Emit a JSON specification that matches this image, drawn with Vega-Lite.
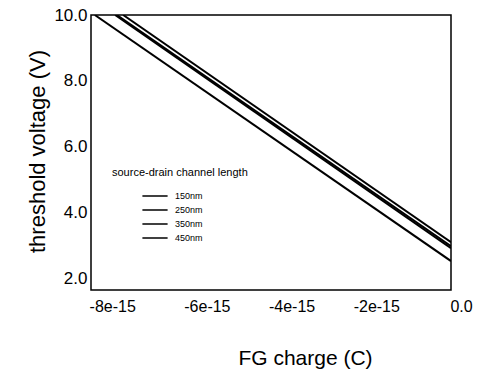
{
  "$schema": "https://vega.github.io/schema/vega-lite/v6.json",
  "width": 360,
  "height": 275,
  "autosize": {"type": "none"},
  "padding": {"left": 91, "top": 15, "right": 26, "bottom": 82},
  "background": "white",
  "config": {
    "view": {"stroke": "black", "strokeWidth": 1.5},
    "font": "Liberation Sans",
    "axis": {"grid": false, "domain": false, "labelColor": "black", "titleColor": "black", "titleFontWeight": "normal"}
  },
  "data": {
    "values": [
      {"length": "150nm", "charge": -8.41e-15, "vt": 10.0},
      {"length": "150nm", "charge": 0, "vt": 2.52},
      {"length": "250nm", "charge": -7.93e-15, "vt": 10.0},
      {"length": "250nm", "charge": 0, "vt": 2.91},
      {"length": "350nm", "charge": -7.89e-15, "vt": 10.0},
      {"length": "350nm", "charge": 0, "vt": 2.97},
      {"length": "450nm", "charge": -7.74e-15, "vt": 10.0},
      {"length": "450nm", "charge": 0, "vt": 3.09}
    ]
  },
  "mark": {"type": "line", "strokeWidth": 2, "clip": true},
  "encoding": {
    "x": {
      "field": "charge",
      "type": "quantitative",
      "scale": {"domain": [-8.5e-15, 0], "nice": false, "zero": false},
      "axis": {
        "values": [-8e-15, -6e-15, -4e-15, -2e-15, 0],
        "labelExpr": "datum.value == 0 ? '0.0' : round(datum.value * 1e15) + 'e-15'",
        "ticks": false,
        "labelPadding": 8,
        "labelFontSize": 16,
        "labelFlush": false,
        "labelOverlap": false,
        "labelOffset": {"condition": {"test": "datum.value < -7e-15", "value": 0}, "value": 10},
        "title": "FG charge (C)",
        "titleFontSize": 21,
        "titleX": 214,
        "titleY": 68,
        "titleBaseline": "middle"
      }
    },
    "y": {
      "field": "vt",
      "type": "quantitative",
      "scale": {"domain": [1.64, 10.0], "nice": false, "zero": false},
      "axis": {
        "values": [2, 4, 6, 8, 10],
        "format": ".1f",
        "ticks": false,
        "labelPadding": 4,
        "labelFontSize": 17,
        "labelFlush": false,
        "title": "threshold voltage (V)",
        "titleFontSize": 22,
        "titleX": -54,
        "titleY": 136,
        "titleBaseline": "middle"
      }
    },
    "color": {
      "field": "length",
      "type": "nominal",
      "scale": {"range": ["black", "black", "black", "black"]},
      "legend": {
        "title": "source-drain channel length",
        "orient": "none",
        "legendX": 21,
        "legendY": 152,
        "titleFontSize": 11,
        "titleFontWeight": "normal",
        "titleColor": "black",
        "titlePadding": 10,
        "labelFontSize": 9,
        "labelColor": "black",
        "labelOffset": 12,
        "symbolType": "M-1.8,0H1.8",
        "symbolSize": 196,
        "symbolStrokeWidth": 1.5,
        "symbolStrokeColor": "black",
        "symbolFillColor": "transparent",
        "symbolOffset": 35,
        "rowPadding": 1
      }
    }
  }
}
